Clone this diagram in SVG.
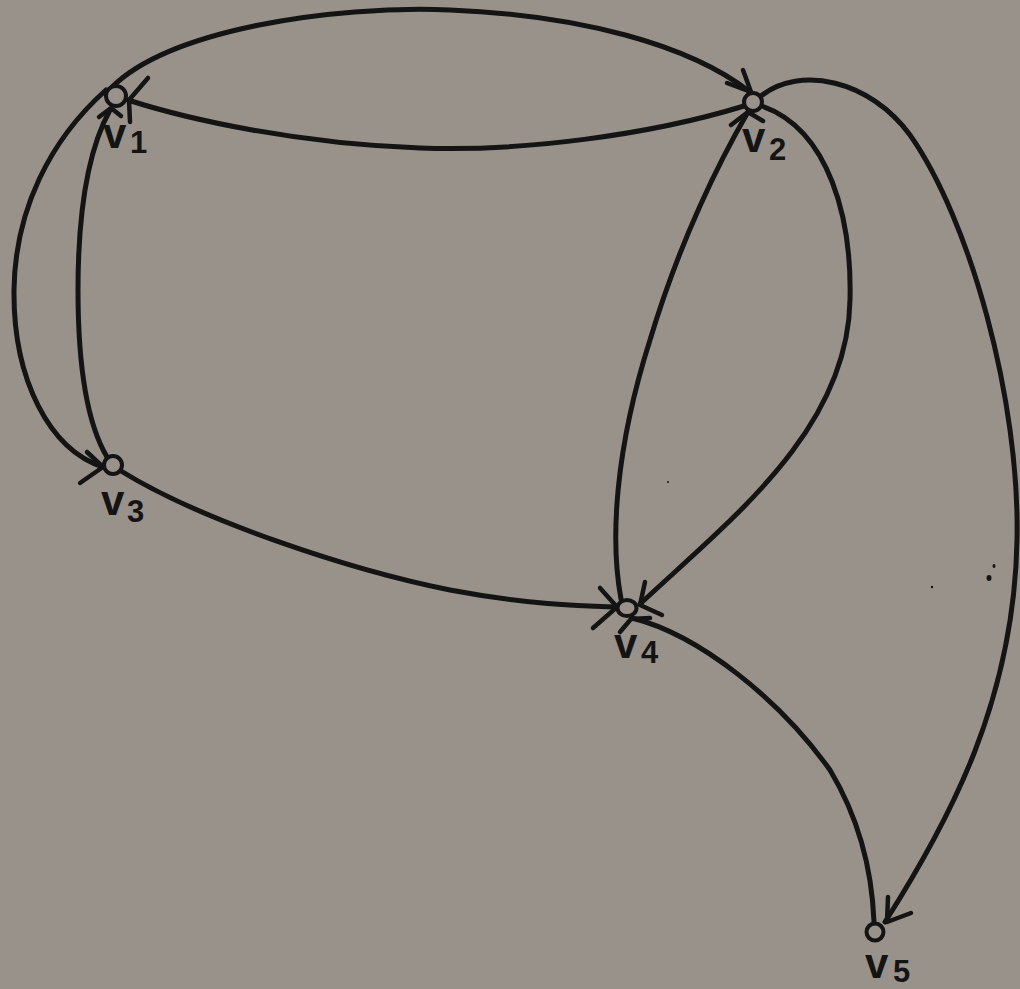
<svg xmlns="http://www.w3.org/2000/svg" width="1020" height="989" viewBox="0 0 1020 989">
<style>
.e{fill:none;stroke:#141414;stroke-width:5;stroke-linecap:round;stroke-linejoin:round}
.a{fill:none;stroke:#141414;stroke-width:4.5;stroke-linecap:round;stroke-linejoin:round}
.n{fill:#99928a;stroke:#141414;stroke-width:4}
.v{font-family:"Liberation Sans",Arial,sans-serif;font-weight:bold;font-size:42px;fill:#141414}
.d{font-family:"Liberation Sans",Arial,sans-serif;font-weight:bold;font-size:31px;fill:#141414}
</style>
<rect width="1020" height="989" fill="#99928a"/>
<g id="connectors">
<path class="e" d="M112,87 C170,30 330,5 450,10 C580,15 690,45 750,92"/>
<path class="e" d="M744,106 C650,135 520,152 420,148 C300,144 190,120 128,100"/>
<path class="e" d="M106,90 C50,140 15,210 14,290 C13,380 50,450 103,467"/>
<path class="e" d="M107,457 C85,420 78,360 78,290 C78,210 88,150 110,110"/>
<path class="e" d="M121,471 C200,520 350,570 450,590 C530,605 580,606 617,607"/>
<path class="e" d="M762,106 C830,130 852,220 850,300 C848,430 730,520 640,604"/>
<path class="e" d="M621,599 C610,540 615,450 650,340 C680,240 720,160 748,112"/>
<path class="e" d="M761,96 C800,65 870,80 910,135 C970,220 1020,400 1017,540 C1014,700 950,820 885,922"/>
<path class="e" d="M632,618 C700,635 780,700 830,770 C860,820 872,870 874,922"/>
<path class="a" d="M743,70 L751,92 L727,83"/>
<path class="a" d="M148,78 L129,100 L130,122"/>
<path class="a" d="M87,452 L103,467 L80,483"/>
<path class="a" d="M99,117 L111,108 L121,116"/>
<path class="a" d="M600,588 L617,607 L593,628"/>
<path class="a" d="M645,582 L640,605 L662,615"/>
<path class="a" d="M731,125 L748,112 L763,121"/>
<path class="a" d="M888,897 L887,922 L911,913"/>
<path class="a" d="M620,632 L631,619 L650,618"/>
</g>
<g id="v1"><circle class="n" cx="116" cy="96" r="10"/><text class="v" x="103" y="148">v</text><text class="d" x="130" y="153">1</text></g>
<g id="v2"><circle class="n" cx="753" cy="102" r="9"/><text class="v" x="742" y="152">v</text><text class="d" x="769" y="160">2</text></g>
<g id="v3"><circle class="n" cx="113" cy="465" r="9"/><text class="v" x="101" y="515">v</text><text class="d" x="127" y="522">3</text></g>
<g id="v4"><ellipse class="n" cx="627" cy="608" rx="9.5" ry="8"/><text class="v" x="614" y="658">v</text><text class="d" x="641" y="663">4</text></g>
<g id="v5"><circle class="n" cx="875" cy="932" r="8.5"/><text class="v" x="865" y="978">v</text><text class="d" x="893" y="982">5</text></g>
<g id="specks" fill="#141414">
<ellipse cx="989" cy="578" rx="2.5" ry="3"/>
<ellipse cx="994" cy="566" rx="1.5" ry="2"/>
<circle cx="932" cy="587" r="1.2"/>
<circle cx="668" cy="482" r="1"/>
</g>
</svg>
